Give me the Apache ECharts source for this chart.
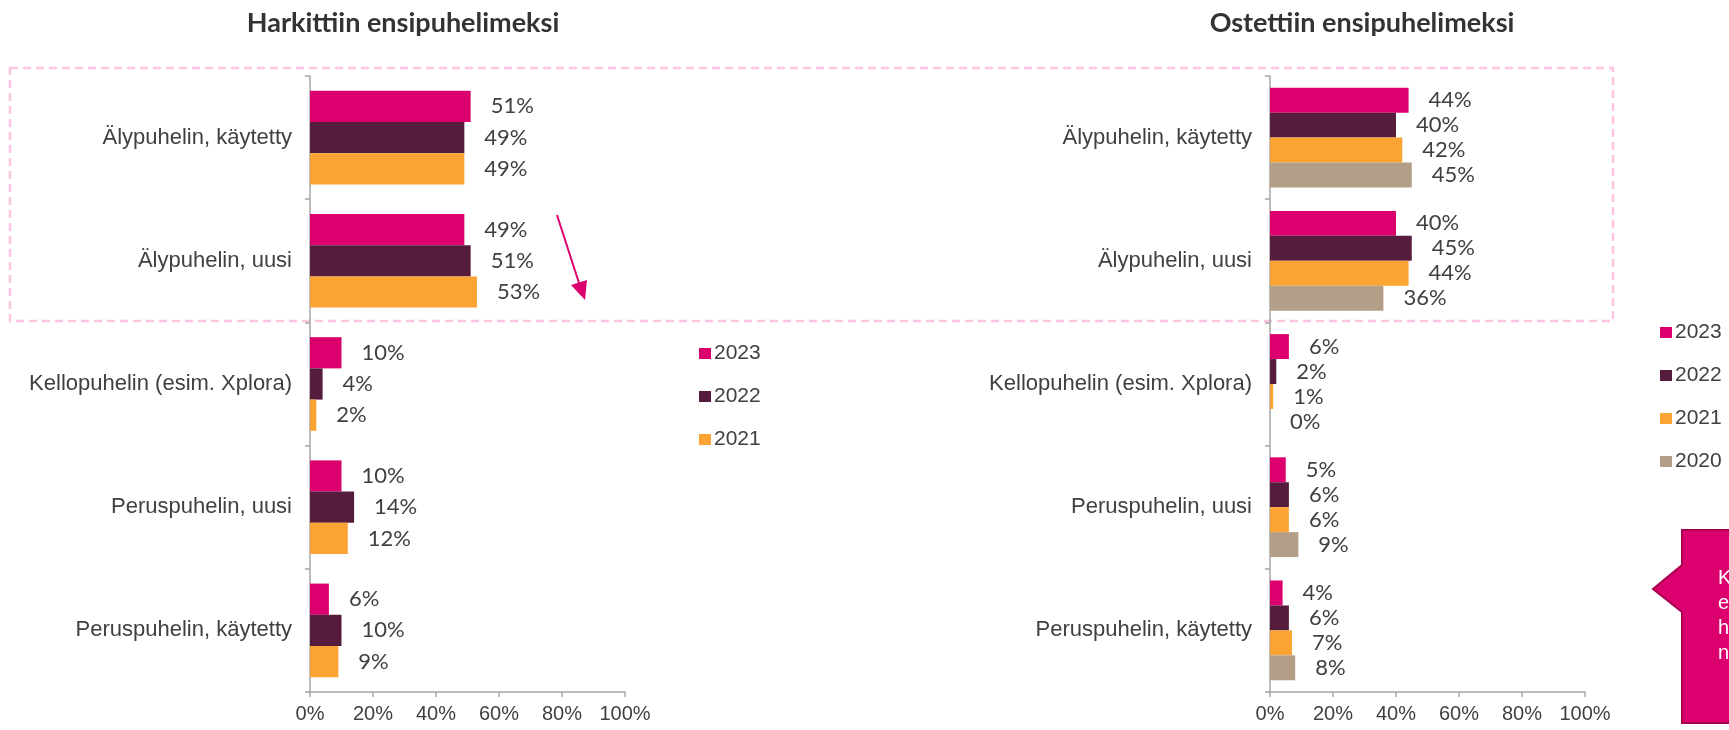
<!DOCTYPE html>
<html>
<head>
<meta charset="utf-8">
<script src="https://cdn.jsdelivr.net/npm/echarts@6/dist/echarts.min.js"></script>
<style>
  html, body { margin: 0; padding: 0; background: #fff; }
  #chart { width: 1729px; height: 730px; }
</style>
</head>
<body>
<div id="chart"></div>
<script>
// categories, top to bottom
const categories = [
  'Älypuhelin, käytetty',
  'Älypuhelin, uusi',
  'Kellopuhelin (esim. Xplora)',
  'Peruspuhelin, uusi',
  'Peruspuhelin, käytetty'
]
const years = ['2023', '2022', '2021', '2020']
const xTicks = [0, 20, 40, 60, 80, 100]

// Harkittiin ensipuhelimeksi (%)
const considered2023 = [51, 49, 10, 10, 6]
const considered2022 = [49, 51, 4, 14, 10]
const considered2021 = [49, 53, 2, 12, 9]

// Ostettiin ensipuhelimeksi (%)
const bought2023 = [44, 40, 6, 5, 4]
const bought2022 = [40, 45, 2, 6, 6]
const bought2021 = [42, 44, 1, 6, 7]
const bought2020 = [45, 36, 0, 9, 8]

const colors = { 2023: '#DB006E', 2022: '#561C3E', 2021: '#FBA434', 2020: '#B39F87' }
const textColor = '#404040'
const axisColor = '#A6A6A6'

function barSeries(name, data, idx, gap) {
  return {
    name,
    type: 'bar',
    xAxisIndex: idx,
    yAxisIndex: idx,
    data,
    barGap: '0%',
    barCategoryGap: gap,
    itemStyle: { color: colors[name] },
    label: {
      show: true,
      position: 'right',
      distance: 20,
      formatter: '{c}%',
      fontFamily: 'Lato',
      fontSize: 22,
      color: textColor
    }
  }
}

function valueAxis(idx) {
  return {
    type: 'value',
    gridIndex: idx,
    min: 0,
    max: 100,
    interval: 20,
    splitLine: { show: false },
    axisLine: { show: true, lineStyle: { color: axisColor, width: 1.5 } },
    axisTick: { show: true, length: 5, lineStyle: { color: axisColor, width: 1.5 } },
    axisLabel: {
      formatter: (v) => (xTicks.includes(v) ? v + '%' : ''),
      margin: 12,
      fontFamily: 'Liberation Sans',
      fontSize: 20,
      color: textColor
    }
  }
}

function categoryAxis(idx) {
  return {
    type: 'category',
    gridIndex: idx,
    data: categories,
    inverse: true,
    axisLine: { show: true, lineStyle: { color: axisColor, width: 1.5 } },
    axisTick: { show: true, length: 5, lineStyle: { color: axisColor, width: 1.5 } },
    axisLabel: {
      margin: 18,
      fontFamily: 'Liberation Sans',
      fontSize: 22,
      color: textColor
    }
  }
}

function legend(names, left, top) {
  return {
    data: names,
    orient: 'vertical',
    left,
    top,
    icon: 'rect',
    itemWidth: 12,
    itemHeight: 11,
    itemGap: 20,
    padding: 0,
    selectedMode: false,
    textStyle: { fontFamily: 'Liberation Sans', fontSize: 21, lineHeight: 23, color: textColor, padding: [0, 0, 0, -2] }
  }
}

const chart = echarts.init(document.getElementById('chart'))
chart.setOption({
  animation: false,
  grid: [
    { left: 310, width: 315, top: 76, bottom: 38 },
    { left: 1270, width: 315, top: 76, bottom: 38 }
  ],
  xAxis: [valueAxis(0), valueAxis(1)],
  yAxis: [categoryAxis(0), categoryAxis(1)],
  legend: [
    legend(years.slice(0, 3), 699, 342),
    legend(years, 1660, 321)
  ],
  series: [
    barSeries('2023', considered2023, 0, '24%'),
    barSeries('2022', considered2022, 0, '24%'),
    barSeries('2021', considered2021, 0, '24%'),
    barSeries('2023', bought2023, 1, '19%'),
    barSeries('2022', bought2022, 1, '19%'),
    barSeries('2021', bought2021, 1, '19%'),
    barSeries('2020', bought2020, 1, '19%')
  ],
  graphic: [
    // highlight box round the smartphone rows
    {
      type: 'rect',
      z: -1,
      shape: { x: 10, y: 68, width: 1603, height: 253 },
      style: { fill: 'none', stroke: '#FFC4E1', lineWidth: 2.5, lineDash: [8, 5] }
    },
    {
      type: 'line',
      shape: { x1: 557, y1: 215, x2: 579, y2: 283 },
      style: { stroke: '#DB006E', lineWidth: 2 }
    },
    {
      type: 'polygon',
      shape: { points: [[571, 285], [587, 280], [585, 300]] },
      style: { fill: '#DB006E' }
    },
    {
      type: 'text',
      style: {
        text: 'Harkittiin ensipuhelimeksi',
        x: 403, y: 23, align: 'center', verticalAlign: 'middle',
        fontFamily: 'Lato', fontWeight: 'bold', fontSize: 27, fill: '#333333'
      }
    },
    {
      type: 'text',
      style: {
        text: 'Ostettiin ensipuhelimeksi',
        x: 1362, y: 23, align: 'center', verticalAlign: 'middle',
        fontFamily: 'Lato', fontWeight: 'bold', fontSize: 27, fill: '#333333'
      }
    },
    // callout cut off at the right edge
    {
      type: 'polygon',
      shape: { points: [[1682, 530], [1740, 530], [1740, 723], [1682, 723], [1682, 612], [1653, 589], [1682, 565]] },
      style: { fill: '#DB006E', stroke: '#A8004F', lineWidth: 2 }
    },
    {
      type: 'text',
      style: {
        text: 'K\nec\nh\nn', x: 1718, y: 566, align: 'left', lineHeight: 25,
        fontFamily: 'Liberation Sans', fontSize: 20, fill: '#ffffff'
      }
    }
  ]
})
</script>
</body>
</html>
